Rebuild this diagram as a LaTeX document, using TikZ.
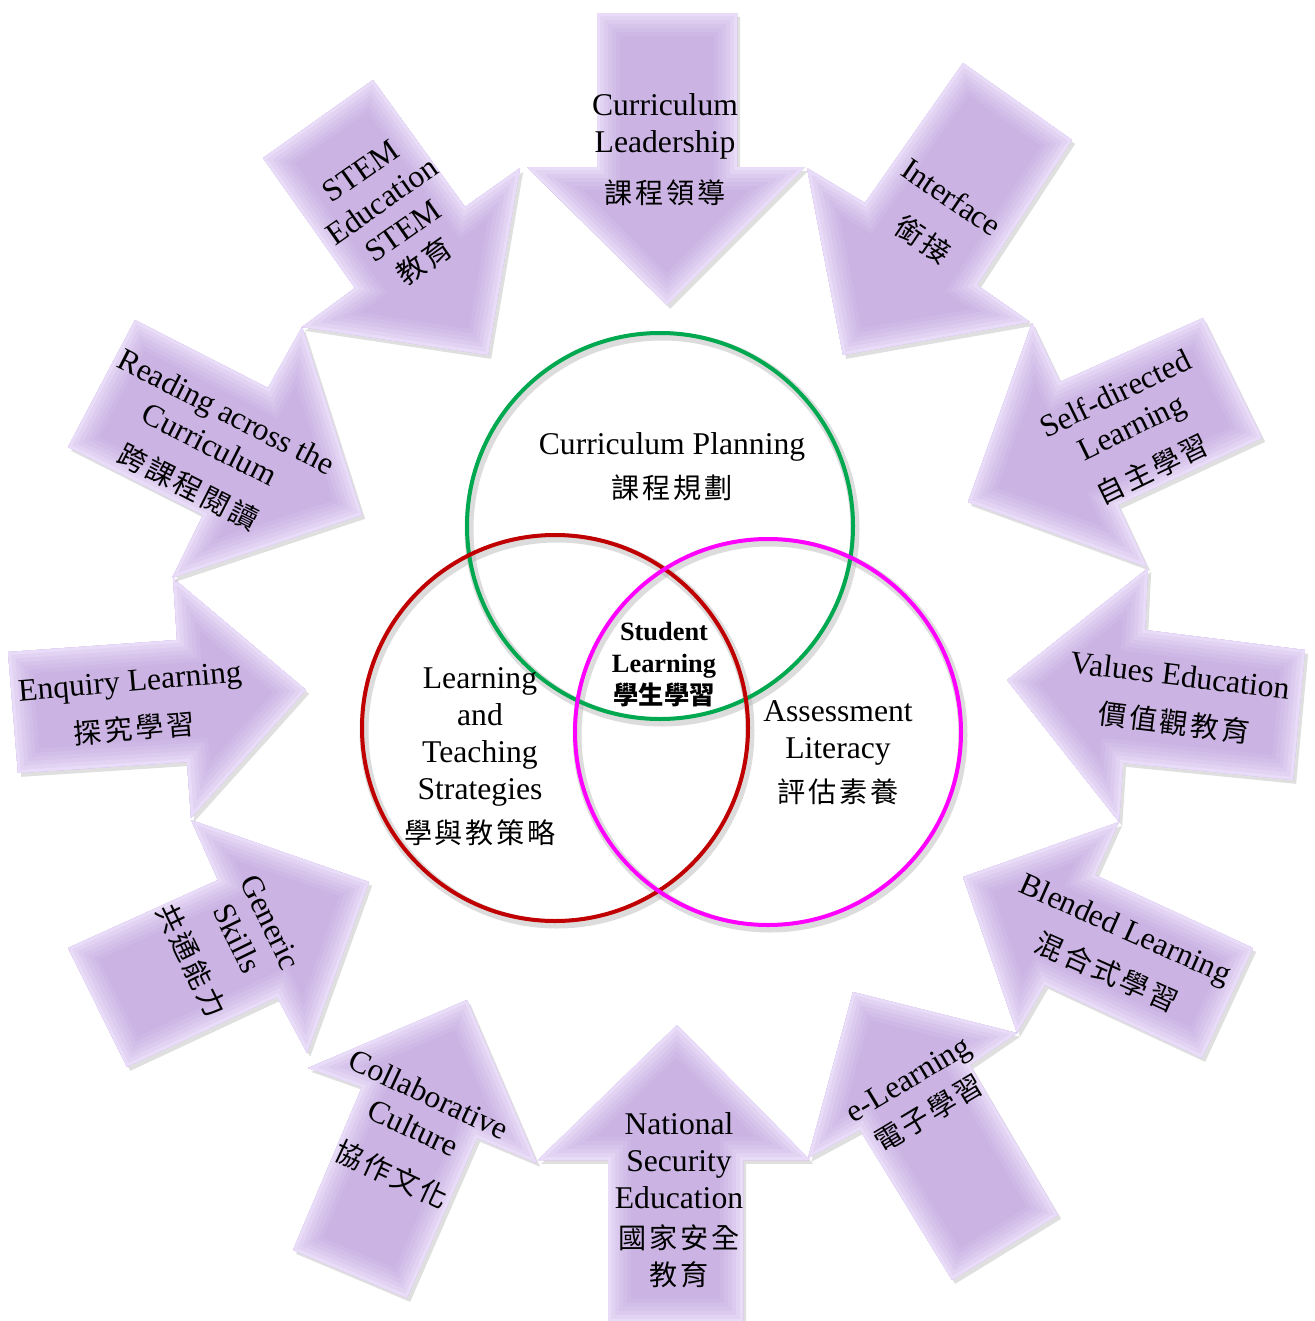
\documentclass[tikz,border=0pt]{standalone}
\usepackage{fontspec}
\setmainfont{Liberation Serif}
\newfontfamily\cjk{Noto Sans CJK TC}[LetterSpace=10]
\newfontfamily\cjkbold{Noto Sans CJK TC Bold}
\usepackage{tikz}
\usetikzlibrary{shadows}
\definecolor{gearlilac}{RGB}{203,180,227}
\definecolor{gearedge}{RGB}{236,224,250}
\definecolor{plangreen}{RGB}{0,168,80}
\definecolor{stratred}{RGB}{192,0,0}
\definecolor{assessmag}{RGB}{255,0,255}
\newcommand\zh[1]{{\cjk\fontsize{8pt}{10.5pt}\selectfont #1}}
\newcommand\gearArrow[7]{%
\fill[gear body] #1 -- #2 -- #3 -- #4 -- #5 -- #6 -- #7 -- cycle;
\begin{scope}
\clip #1 -- #2 -- #3 -- #4 -- #5 -- #6 -- #7 -- cycle;
\foreach \w/\m in {0.46/10,0.38/22,0.30/36,0.22/52,0.14/70,0.06/90}
  \draw[gear bevel,draw=gearedge!\m!gearlilac,line width=\w cm] #1 -- #2 -- #3 -- #4 -- #5 -- #6 -- #7 -- cycle;
\end{scope}}
\tikzset{
gear body/.style={fill=gearlilac,drop shadow={shadow xshift=0.9pt,shadow yshift=-1.1pt,opacity=.25}},
gear bevel/.style={line join=miter},
gear text/.style={align=center,inner sep=0pt,font=\fontsize{9pt}{10.5pt}\selectfont},
plan circle/.style={line width=0.04cm},
plan halo/.style={draw=black!30,line width=0.09cm,opacity=.45},
core text/.style={align=center,inner sep=0pt,font=\bfseries\fontsize{7.5pt}{9.1pt}\selectfont}
}
\begin{document}
\begin{tikzpicture}[x=0.01cm,y=-0.01cm]
\useasboundingbox (0,0) rectangle (1314,1321);
% ring of arrows
\gearArrow{(667,305)}{(527,167)}{(597,167)}{(597,13)}{(737,13)}{(737,167)}{(805,167)}
\gearArrow{(843,355)}{(807,168)}{(865,203)}{(963,63)}{(1072,140)}{(977,285)}{(1030,322)}
\gearArrow{(968,502)}{(1032,323)}{(1060,382)}{(1203,318)}{(1262,438)}{(1118,505)}{(1147,567)}
\gearArrow{(1007,680)}{(1148,568)}{(1145,630)}{(1305,650)}{(1293,780)}{(1123,763)}{(1119,822)}
\gearArrow{(963,877)}{(1119,822)}{(1095,875)}{(1253,948)}{(1202,1058)}{(1045,985)}{(1017,1033)}
\gearArrow{(853,992)}{(1017,1033)}{(970,1065)}{(1058,1215)}{(952,1280)}{(860,1130)}{(808,1158)}
\gearArrow{(677,1025)}{(810,1160)}{(743,1160)}{(743,1322)}{(608,1322)}{(608,1160)}{(538,1160)}
\gearArrow{(467,1000)}{(537,1163)}{(477,1138)}{(407,1298)}{(293,1250)}{(362,1087)}{(308,1068)}
\gearArrow{(369,882)}{(307,1053)}{(277,997)}{(127,1067)}{(68,948)}{(218,880)}{(191,820)}
\gearArrow{(306,690)}{(191,818)}{(187,762)}{(18,773)}{(8,652)}{(177,640)}{(173,578)}
\gearArrow{(362,515)}{(172,578)}{(203,515)}{(68,447)}{(135,320)}{(268,388)}{(302,327)}
\gearArrow{(488,355)}{(302,327)}{(355,288)}{(263,158)}{(373,80)}{(465,207)}{(520,168)}
% arrow labels
\node[gear text] (leadership) at (665,150) {Curriculum\\Leadership\\[4pt]\zh{課程領導}};
\node[gear text,rotate=-34] (interface) at (937,219) {Interface\\[4pt]\zh{銜接}};
\node[gear text,rotate=26] (selfdirected) at (1134,432) {Self-directed\\Learning\\[3pt]\zh{自主學習}};
\node[gear text,rotate=-7] (values) at (1177,700) {Values Education\\[3pt]\zh{價值觀教育}};
\node[gear text,rotate=-24] (blended) at (1116,951) {Blended Learning\\[3pt]\zh{混合式學習}};
\node[gear text,rotate=31] (elearning) at (919,1097) {e-Learning\\[1pt]\zh{電子學習}};
\node[gear text] (security) at (679,1200) {National\\Security\\Education\\[1pt]\zh{國家安全}\\\zh{教育}};
\node[gear text,rotate=-25] (collab) at (410,1135) {Collaborative\\Culture\\[4pt]\zh{協作文化}};
\node[gear text,rotate=-64] (generic) at (230,942) {Generic\\Skills\\[4pt]\zh{共通能力}};
\node[gear text,rotate=5] (enquiry) at (132,706) {Enquiry Learning\\[3pt]\zh{探究學習}};
\node[gear text,rotate=-27] (reading) at (207,450) {Reading across the\\Curriculum\\[3pt]\zh{跨課程閱讀}};
\node[gear text,rotate=35] (stem) at (393,217) {STEM\\Education\\STEM\\\zh{教育}};
% three circles
\draw[plan halo] (662,529) circle [radius=193];
\draw[plan halo] (557,731) circle [radius=193];
\draw[plan halo] (770,735) circle [radius=193];
\draw[plan circle,plangreen] (660,526) circle [radius=193];
\draw[plan circle,stratred] (555,728) circle [radius=193];
\draw[plan circle,assessmag] (768,732) circle [radius=193];
\node[gear text] (planning) at (672,467) {Curriculum Planning\\[2pt]\zh{課程規劃}};
\node[gear text] (strategies) at (480,757) {Learning\\and\\Teaching\\Strategies\\[2pt]\zh{學與教策略}};
\node[gear text] (assessment) at (838,753) {Assessment\\Literacy\\[2pt]\zh{評估素養}};
\node[core text] (student) at (664,665) {Student\\Learning\\{\cjkbold\fontsize{7.2pt}{9.1pt}\selectfont 學生學習}};
\end{tikzpicture}
\end{document}
